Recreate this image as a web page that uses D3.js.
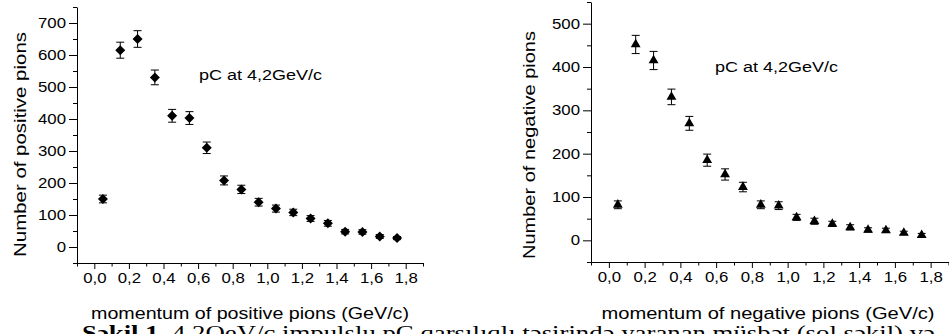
<!DOCTYPE html>
<html>
<head>
<meta charset="utf-8">
<script src="https://cdn.jsdelivr.net/npm/d3@7/dist/d3.min.js"></script>
<style>
  body { margin: 0; background: #fff; }
  svg { display: block; }
  .sans { font-family: "Liberation Sans", Arial, sans-serif; fill: #000; }
  .serif { font-family: "Liberation Serif", "Times New Roman", serif; fill: #000; }
</style>
</head>
<body>
<svg id="chart" width="949" height="334"></svg>
<script>
// Momentum bin centres (GeV/c)
const momentum = [0.05, 0.15, 0.25, 0.35, 0.45, 0.55, 0.65, 0.75, 0.85, 0.95,
                  1.05, 1.15, 1.25, 1.35, 1.45, 1.55, 1.65, 1.75];

// Positive pions: counts and statistical errors
const positiveCounts = [150, 615, 650, 530, 410, 403, 310, 208, 180, 140,
                        120, 108, 89, 74, 48, 47, 33, 28];
const positiveErrors = [12, 25, 26, 23, 20, 20, 18, 14, 13, 12,
                        11, 10, 9, 9, 7, 7, 6, 5];

// Negative pions: counts and statistical errors
const negativeCounts = [82, 452, 415, 331, 270, 185, 152, 123, 82, 80,
                        53, 44, 38, 30, 24, 23, 17, 12];
const negativeErrors = [9, 21, 21, 18, 16, 14, 13, 11, 9, 9,
                        7, 7, 6, 6, 5, 5, 4, 4];

// Tick values
const xTicks = [0, 0.2, 0.4, 0.6, 0.8, 1.0, 1.2, 1.4, 1.6, 1.8];
const xMinorTicks = [-0.1, 0.1, 0.3, 0.5, 0.7, 0.9, 1.1, 1.3, 1.5, 1.7, 1.9];
const positiveYTicks = [0, 100, 200, 300, 400, 500, 600, 700];
const positiveYMinor = [-50, 50, 150, 250, 350, 450, 550, 650, 750];
const negativeYTicks = [0, 100, 200, 300, 400, 500];
const negativeYMinor = [-50, 50, 150, 250, 350, 450, 550];

const panelLabel = "pC at 4,2GeV/c";

const svg = d3.select("#chart");
const commaFmt = d => d.toFixed(1).replace(".", ",");

// widen glyphs horizontally along the text direction
function stretch(sel, factor) {
  sel.each(function () {
    const w = this.getComputedTextLength();
    d3.select(this).attr("textLength", w * factor).attr("lengthAdjust", "spacingAndGlyphs");
  });
}
function fitLength(sel, len) {
  sel.attr("textLength", len).attr("lengthAdjust", "spacingAndGlyphs");
}

function drawPanel(opt) {
  const x = d3.scaleLinear().domain([-0.1, 1.9]).range(opt.xRange);
  const y = d3.scaleLinear().domain(opt.yDomain).range(opt.yRange);
  const g = svg.append("g");

  // minor ticks
  g.append("g")
    .attr("transform", `translate(0,${opt.yRange[0]})`)
    .call(d3.axisBottom(x).tickValues(xMinorTicks).tickSize(3.5).tickSizeOuter(0).tickFormat(""))
    .call(s => s.select(".domain").remove());
  g.append("g")
    .attr("transform", `translate(${opt.xRange[0]},0)`)
    .call(d3.axisLeft(y).tickValues(opt.yMinor).tickSize(4).tickSizeOuter(0).tickFormat(""))
    .call(s => s.select(".domain").remove());

  // major axes
  const xa = g.append("g")
    .attr("transform", `translate(0,${opt.yRange[0]})`)
    .call(d3.axisBottom(x).tickValues(xTicks).tickSize(6).tickSizeOuter(0).tickPadding(4).tickFormat(commaFmt));
  const ya = g.append("g")
    .attr("transform", `translate(${opt.xRange[0]},0)`)
    .call(d3.axisLeft(y).tickValues(opt.yTicks).tickSize(8).tickSizeOuter(0).tickPadding(3));
  [xa, ya].forEach(a => {
    a.selectAll("text").attr("class", "sans").style("font-size", "14px").attr("font-family", null);
    a.selectAll("line, path").attr("stroke", "#000").attr("stroke-width", 1);
    stretch(a.selectAll("text"), 1.2);
  });
  g.selectAll(".tick line").attr("stroke", "#000");

  // error bars
  const eb = g.append("g").attr("stroke", "#000").attr("stroke-width", 1).attr("fill", "none");
  momentum.forEach((m, i) => {
    const cx = x(m), v = opt.values[i], e = opt.errors[i];
    const y0 = y(v - e), y1 = y(v + e);
    eb.append("line").attr("x1", cx).attr("x2", cx).attr("y1", y0).attr("y2", y1);
    eb.append("line").attr("x1", cx - 4).attr("x2", cx + 4).attr("y1", y0).attr("y2", y0);
    eb.append("line").attr("x1", cx - 4).attr("x2", cx + 4).attr("y1", y1).attr("y2", y1);
  });

  // markers
  g.append("g").selectAll("path")
    .data(momentum)
    .join("path")
    .attr("d", d3.symbol().type(opt.symbol).size(opt.symbolSize))
    .attr("transform", (m, i) => `translate(${x(m)},${y(opt.values[i])})${opt.rotate ? " rotate(45)" : ""}`)
    .attr("fill", "#000");

  // in-plot label
  g.append("text").attr("class", "sans")
    .attr("x", opt.labelPos[0]).attr("y", opt.labelPos[1])
    .style("font-size", "14px").text(panelLabel)
    .call(fitLength, 123);

  // axis titles
  g.append("text").attr("class", "sans")
    .attr("transform", `translate(${opt.yTitlePos[0]},${opt.yTitlePos[1]}) rotate(-90)`)
    .attr("text-anchor", "middle").style("font-size", "17px").text(opt.yTitle)
    .call(fitLength, opt.yTitleLen);
  g.append("text").attr("class", "sans")
    .attr("x", opt.xTitlePos[0]).attr("y", opt.xTitlePos[1])
    .attr("text-anchor", "middle").style("font-size", "16px").text(opt.xTitle)
    .call(fitLength, opt.xTitleLen);
}

drawPanel({
  xRange: [77, 423], yDomain: [-50, 750], yRange: [263, 7],
  yTicks: positiveYTicks, yMinor: positiveYMinor,
  values: positiveCounts, errors: positiveErrors,
  symbol: d3.symbolSquare, symbolSize: 50, rotate: true,
  labelPos: [199, 80],
  yTitle: "Number of positive pions", yTitlePos: [26, 144.5], yTitleLen: 225,
  xTitle: "momentum of positive pions (GeV/c)", xTitlePos: [250, 319], xTitleLen: 318
});

drawPanel({
  xRange: [591, 948.5], yDomain: [-50, 550], yRange: [262, 2],
  yTicks: negativeYTicks, yMinor: negativeYMinor,
  values: negativeCounts, errors: negativeErrors,
  symbol: d3.symbolTriangle, symbolSize: 42, rotate: false,
  labelPos: [715, 72],
  yTitle: "Number of negative pions", yTitlePos: [535, 145], yTitleLen: 228,
  xTitle: "momentum of negative pions (GeV/c)", xTitlePos: [768, 319], xTitleLen: 333
});

// figure caption (partly below the visible area)
const cap = svg.append("text").attr("class", "serif")
  .attr("x", 82).attr("y", 340).style("font-size", "20px");
cap.append("tspan").attr("font-weight", "bold").text("Şəkil 1.");
cap.append("tspan").text(" 4,2QeV/c impulslu pC qarşılıqlı təsirində yaranan müsbət (sol şəkil) və");
cap.call(fitLength, 853);
</script>
</body>
</html>
